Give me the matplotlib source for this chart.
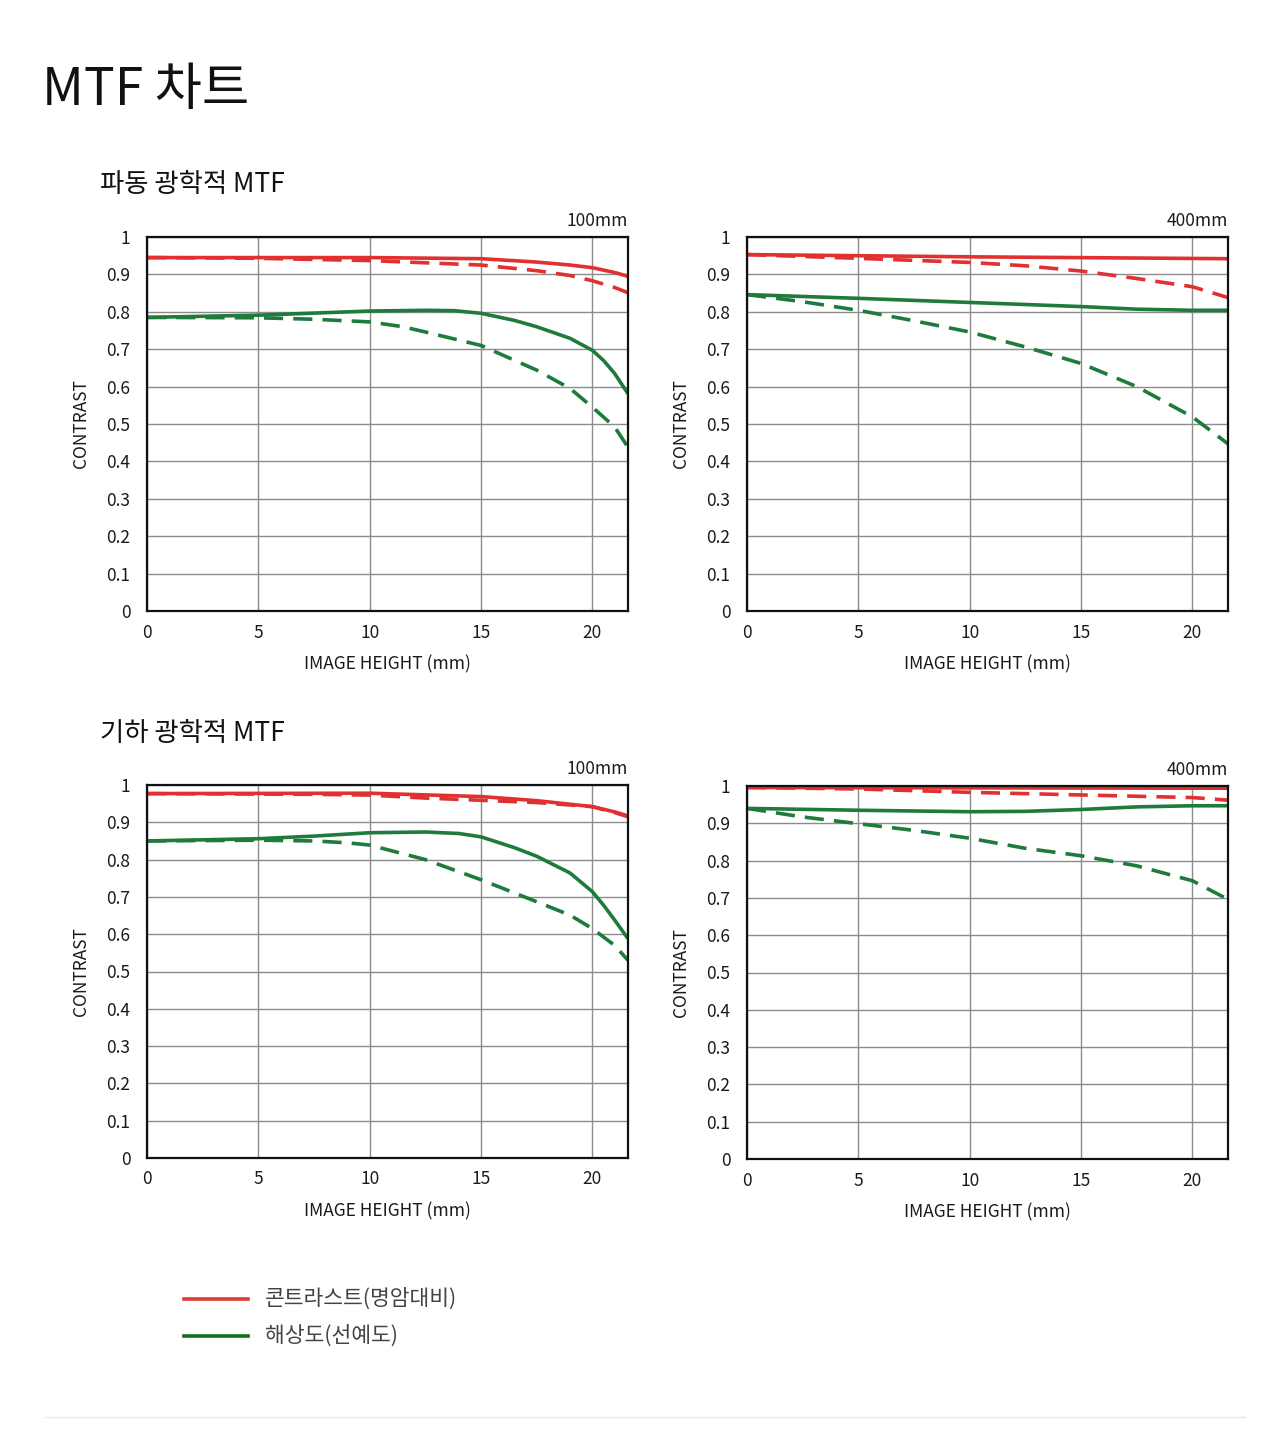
import matplotlib
matplotlib.use("Agg")
import matplotlib.pyplot as plt
from matplotlib.lines import Line2D

plt.rcParams['font.family'] = ['Noto Sans CJK KR', 'DejaVu Sans']

RED = "#e0302f"
GREEN = "#1e7b3c"

# 파동 광학적 MTF - 100mm
w100_x_rs = [0, 5, 10, 15, 17.5, 19, 20, 21, 21.6]
w100_y_rs = [0.945, 0.945, 0.945, 0.942, 0.933, 0.925, 0.918, 0.905, 0.895]
w100_x_rd = [0, 5, 10, 12.5, 15, 17.5, 19, 20, 21, 21.6]
w100_y_rd = [0.945, 0.943, 0.937, 0.931, 0.925, 0.91, 0.897, 0.883, 0.865, 0.851]
w100_x_gs = [0, 5, 10, 12.5, 13.8, 15, 16.5, 17.5, 19, 20, 20.5, 21, 21.6]
w100_y_gs = [0.785, 0.791, 0.802, 0.804, 0.803, 0.796, 0.777, 0.760, 0.729, 0.697, 0.670, 0.635, 0.581]
w100_x_gd = [0, 5, 7.5, 10, 11.5, 12.5, 15, 17.5, 19, 20, 21, 21.6]
w100_y_gd = [0.785, 0.784, 0.780, 0.773, 0.760, 0.746, 0.710, 0.644, 0.595, 0.545, 0.492, 0.438]

# 파동 광학적 MTF - 400mm
w400_x_rs = [0, 10, 21.6]
w400_y_rs = [0.953, 0.947, 0.942]
w400_x_rd = [0, 5, 10, 12.5, 15, 17.5, 20, 21.6]
w400_y_rd = [0.953, 0.943, 0.932, 0.923, 0.909, 0.889, 0.867, 0.838]
w400_x_gs = [0, 5, 10, 15, 17.5, 20, 21.6]
w400_y_gs = [0.846, 0.836, 0.825, 0.814, 0.807, 0.804, 0.804]
w400_x_gd = [0, 2.5, 5, 7.5, 10, 12.5, 15, 17.5, 20, 21.6]
w400_y_gd = [0.846, 0.827, 0.804, 0.776, 0.746, 0.706, 0.662, 0.600, 0.519, 0.447]

# 기하 광학적 MTF - 100mm
g100_x_rs = [0, 10, 15, 17.5, 20, 21, 21.6]
g100_y_rs = [0.977, 0.978, 0.969, 0.958, 0.942, 0.928, 0.917]
g100_x_rd = [0, 7.5, 10, 12.5, 15, 17.5, 20, 21, 21.6]
g100_y_rd = [0.977, 0.975, 0.973, 0.965, 0.959, 0.953, 0.942, 0.926, 0.915]
g100_x_gs = [0, 5, 7.5, 10, 12.5, 14, 15, 16.5, 17.5, 19, 20, 20.5, 21, 21.6]
g100_y_gs = [0.850, 0.856, 0.863, 0.872, 0.874, 0.870, 0.861, 0.832, 0.809, 0.764, 0.714, 0.678, 0.638, 0.588]
g100_x_gd = [0, 5, 7.5, 9, 10, 12.5, 15, 17.5, 19, 20, 21, 21.6]
g100_y_gd = [0.850, 0.852, 0.850, 0.845, 0.839, 0.800, 0.746, 0.687, 0.651, 0.615, 0.570, 0.530]

# 기하 광학적 MTF - 400mm
g400_x_rs = [0, 10, 21.6]
g400_y_rs = [0.996, 0.995, 0.994]
g400_x_rd = [0, 5, 10, 15, 20, 21.6]
g400_y_rd = [0.996, 0.992, 0.983, 0.976, 0.969, 0.962]
g400_x_gs = [0, 5, 10, 12.5, 15, 17.5, 20, 21.6]
g400_y_gs = [0.940, 0.935, 0.931, 0.932, 0.937, 0.944, 0.947, 0.947]
g400_x_gd = [0, 2.5, 5, 7.5, 10, 12.5, 15, 17.5, 20, 21.6]
g400_y_gd = [0.940, 0.917, 0.899, 0.881, 0.860, 0.833, 0.813, 0.786, 0.746, 0.696]

y_ticks = [0, 0.1, 0.2, 0.3, 0.4, 0.5, 0.6, 0.7, 0.8, 0.9, 1]
y_tick_labels = ["0", "0.1", "0.2", "0.3", "0.4", "0.5", "0.6", "0.7", "0.8", "0.9", "1"]
x_ticks = [0, 5, 10, 15, 20]

W, H = 1280, 1449
fig = plt.figure(figsize=(W / 100, H / 100), dpi=100)


def px_axes(x0, y0, x1, y1):
    return fig.add_axes([x0 / W, 1 - y1 / H, (x1 - x0) / W, (y1 - y0) / H])


def draw_panel(ax, series, focal):
    ax.set_xlim(0, 21.6)
    ax.set_ylim(0, 1)
    ax.set_xticks(x_ticks)
    ax.set_yticks(y_ticks)
    ax.set_yticklabels(y_tick_labels)
    ax.grid(True, color="#8c8c8c", linewidth=1.0)
    ax.set_axisbelow(True)
    ax.tick_params(length=0, labelsize=12.5, colors="#1a1a1a")
    ax.tick_params(axis="y", pad=12)
    ax.tick_params(axis="x", pad=9)
    for s in ax.spines.values():
        s.set_linewidth(1.6)
        s.set_color("#111111")
    for xs, ys, color, dashed in series:
        ax.plot(xs, ys, color=color, lw=2.6,
                linestyle=(0, (5.3, 2.8)) if dashed else "-",
                solid_capstyle="butt", dash_capstyle="butt", clip_on=True)
    ax.set_xlabel("IMAGE HEIGHT (mm)", fontsize=12.5, color="#1a1a1a", labelpad=10)
    ax.set_ylabel("CONTRAST", fontsize=12.5, color="#1a1a1a", labelpad=12)
    ax.text(1.0, 1.02, focal, transform=ax.transAxes, ha="right", va="bottom",
            fontsize=12.5, color="#1a1a1a")


ax1 = px_axes(147, 237, 628, 611)
draw_panel(ax1, [
    (w100_x_gs, w100_y_gs, GREEN, False),
    (w100_x_gd, w100_y_gd, GREEN, True),
    (w100_x_rs, w100_y_rs, RED, False),
    (w100_x_rd, w100_y_rd, RED, True),
], "100mm")

ax2 = px_axes(747, 237, 1228, 611)
draw_panel(ax2, [
    (w400_x_gs, w400_y_gs, GREEN, False),
    (w400_x_gd, w400_y_gd, GREEN, True),
    (w400_x_rs, w400_y_rs, RED, False),
    (w400_x_rd, w400_y_rd, RED, True),
], "400mm")

ax3 = px_axes(147, 785, 628, 1158)
draw_panel(ax3, [
    (g100_x_gs, g100_y_gs, GREEN, False),
    (g100_x_gd, g100_y_gd, GREEN, True),
    (g100_x_rs, g100_y_rs, RED, False),
    (g100_x_rd, g100_y_rd, RED, True),
], "100mm")

ax4 = px_axes(747, 786, 1228, 1159)
draw_panel(ax4, [
    (g400_x_gs, g400_y_gs, GREEN, False),
    (g400_x_gd, g400_y_gd, GREEN, True),
    (g400_x_rs, g400_y_rs, RED, False),
    (g400_x_rd, g400_y_rd, RED, True),
], "400mm")

# titles
fig.text(42 / W, 1 - 90 / H, "MTF 차트", fontsize=37, color="#111111",
         ha="left", va="center", fontweight="medium")
fig.text(100 / W, 1 - 185 / H, "파동 광학적 MTF", fontsize=19, color="#111111",
         ha="left", va="center", fontweight="medium")
fig.text(100 / W, 1 - 733 / H, "기하 광학적 MTF", fontsize=19, color="#111111",
         ha="left", va="center", fontweight="medium")

# legend
fig.add_artist(Line2D([184 / W, 248 / W], [1 - 1299 / H, 1 - 1299 / H],
                      color="#e03a3a", lw=2.6))
fig.add_artist(Line2D([184 / W, 248 / W], [1 - 1336 / H, 1 - 1336 / H],
                      color="#10701c", lw=2.6))
fig.text(265 / W, 1 - 1299 / H, "콘트라스트(명암대비)", fontsize=15.5,
         color="#444444", ha="left", va="center")
fig.text(265 / W, 1 - 1336 / H, "해상도(선예도)", fontsize=15.5,
         color="#444444", ha="left", va="center")

# bottom separator
fig.add_artist(Line2D([45 / W, 1245 / W], [1 - 1417 / H, 1 - 1417 / H],
                      color="#e6e6e6", lw=1.0))

fig.savefig("out.png", dpi=100, facecolor="white")
